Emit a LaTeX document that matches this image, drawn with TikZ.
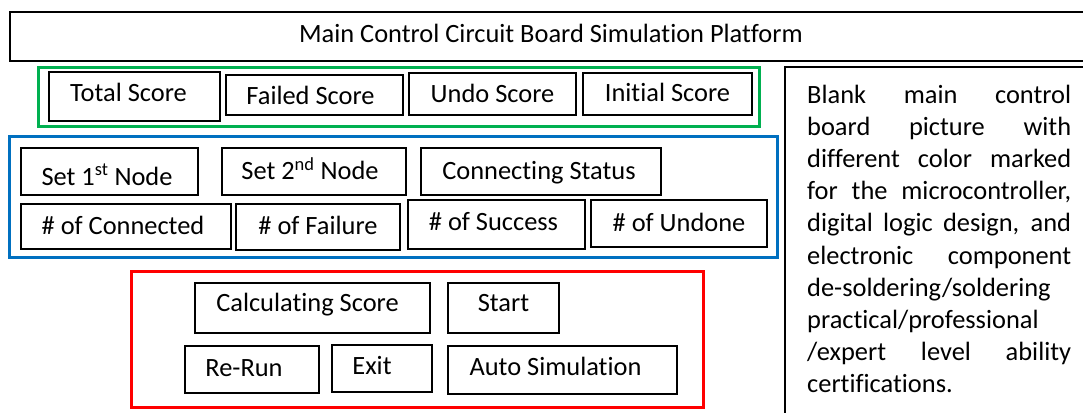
\documentclass[tikz,border=0pt]{standalone}
\usepackage{fontspec}
\setmainfont{Carlito}[Ligatures={NoCommon}]
\definecolor{grpgreen}{HTML}{00B050}
\definecolor{grpblue}{HTML}{0070C0}
\definecolor{grpred}{HTML}{FF0000}
\newcommand{\lblfont}{\fontsize{26.4}{32.2}\selectfont}
\newcommand{\lft}[1]{\hspace*{#1}}
\tikzset{
  box/.style={draw, line width=1.5pt, inner sep=0pt, text height=17pt, text depth=0pt, font=\lblfont},
  frame/.style={line width=3pt},
}
\begin{document}
\begin{tikzpicture}[x=1pt,y=-1pt]
\useasboundingbox (0,0) rectangle (1083,412);
\clip (0,0) rectangle (1083,412);
% title
\node[box, line width=2pt, minimum width=1082pt, minimum height=49pt, text depth=4.6pt] (title) at (551,36.5) {Main Control Circuit Board Simulation Platform};
% green group
\draw[frame, grpgreen] (38,67) rectangle (759,126);
\node[box, line width=2pt, minimum width=171pt, minimum height=49pt, text depth=6.4pt] (total) at (134.5,96.5) {Total Score\lft{12pt}};
\node[box, minimum width=177pt, minimum height=40pt, text height=18.6pt] (failed) at (314.5,95) {Failed Score\lft{8pt}};
\node[box, minimum width=167pt, minimum height=42pt] (undo) at (492.5,94) {Undo Score};
\node[box, minimum width=169pt, minimum height=42pt, text depth=1.4pt] (initial) at (667.5,94) {Initial Score};
% blue group
\draw[frame, grpblue] (9,136) rectangle (777,257);
\node[box, minimum width=177pt, minimum height=47pt, text height=27pt] (set1) at (109.5,171.5) {Set 1\textsuperscript{st} Node\lft{5pt}};
\node[box, minimum width=184pt, minimum height=47pt, text depth=1pt] (set2) at (314,171.5) {Set 2\textsuperscript{nd} Node\lft{8pt}};
\node[box, minimum width=240pt, minimum height=47pt, text depth=2pt] (conn) at (541,171.5) {Connecting Status\lft{4pt}};
\node[box, minimum width=210pt, minimum height=45pt, text depth=2pt] (nconn) at (126,226.5) {\# of Connected\lft{6pt}};
\node[box, minimum width=164pt, minimum height=46pt, text depth=3pt] (nfail) at (318,227) {\# of Failure};
\node[box, minimum width=177pt, minimum height=49pt, text depth=6pt] (nsucc) at (496.5,224.5) {\# of Success\lft{6pt}};
\node[box, minimum width=176pt, minimum height=47pt, text depth=1pt] (nundone) at (679,223.5) {\# of Undone};
% red group
\draw[frame, grpred] (131,271) rectangle (703,407);
\node[box, minimum width=235pt, minimum height=50pt, text depth=10pt] (calc) at (312.5,308) {Calculating Score\lft{10pt}};
\node[box, minimum width=111pt, minimum height=50pt, text depth=10pt] (start) at (503.5,308) {Start};
\node[box, minimum width=134pt, minimum height=47pt, text depth=4pt] (rerun) at (252,369.5) {Re-Run\lft{16pt}};
\node[box, minimum width=100pt, minimum height=47pt, text depth=6pt] (exit) at (382,368.5) {Exit\lft{20pt}};
\node[box, minimum width=229pt, minimum height=48pt, text depth=5.4pt] (auto) at (562.5,370) {Auto Simulation\lft{14pt}};
% right description
\draw[line width=2pt] (785,67) rectangle (1100,430);
\node[anchor=base west, inner sep=0pt, font=\lblfont] (desc) at (807,103) {\parbox[t]{264pt}{\lblfont
\makebox[264pt][s]{Blank main control}\\
\makebox[264pt][s]{board picture with}\\
\makebox[264pt][s]{different color marked}\\
\makebox[264pt][s]{for the microcontroller,}\\
\makebox[264pt][s]{digital logic design, and}\\
\makebox[264pt][s]{electronic component}\\
de-soldering/soldering\\
practical/professional\\
\makebox[264pt][s]{/expert level ability}\\
certifications.}};
\end{tikzpicture}
\end{document}
